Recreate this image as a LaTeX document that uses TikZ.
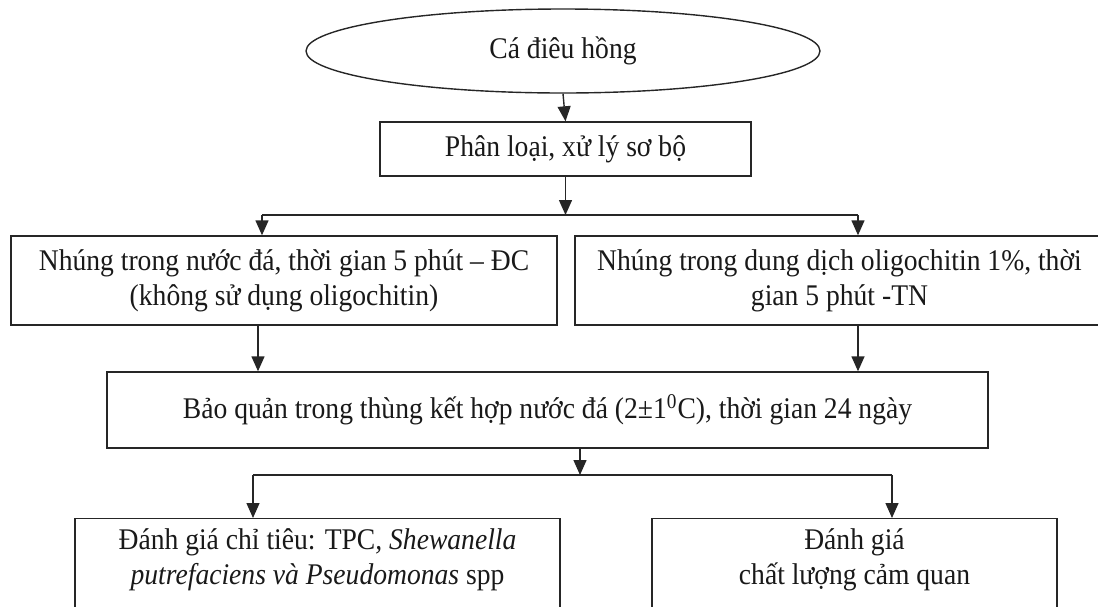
\documentclass[tikz,border=0pt]{standalone}
\usepackage{fontspec}
\setmainfont{Liberation Serif}[FakeStretch=0.92]
\usetikzlibrary{
    arrows.meta,
    shapes,
    calc,
    positioning
}

\begin{document}
\begin{tikzpicture}[x=0.5pt, y=-0.5pt,
        every node/.style={font=\fontsize{15}{17.5}\selectfont, text=black!90},
        box/.style={draw=black!85, line width=0.7pt, rectangle, align=center, inner sep=0pt},
        arr/.style={draw=black!85, line width=0.7pt, -{Triangle[width=6.5pt, length=7.5pt]}},
        ln/.style={draw=black!85, line width=0.7pt}]
    \useasboundingbox (0,0) rectangle (1098,606);

    \node[ellipse, draw=black!85, line width=0.7pt, minimum width=257pt, minimum height=42pt, inner sep=0pt] (fish) at (563,51) {Cá điêu hồng};
    \node[box, minimum width=185.5pt, minimum height=27pt] (sort) at (565.5,149) {Phân loại, xử lý sơ bộ};
    \node[box, minimum width=273pt, minimum height=44.5pt] (ice) at (284,280.5) {Nhúng trong nước đá, thời gian 5 phút – ĐC\\(không sử dụng oligochitin)};
    \node[box, minimum width=264.5pt, minimum height=44.5pt] (oligo) at (839.5,280.5) {Nhúng trong dung dịch oligochitin 1\%, thời\\gian 5 phút -TN};
    \node[box, minimum width=440.5pt, minimum height=38pt] (store) at (547.5,410) {Bảo quản trong thùng kết hợp nước đá (2±1\textsuperscript{0}C), thời gian 24 ngày};
    \node[box, anchor=north, minimum width=242.5pt, text height=33pt, text depth=20pt] (micro) at (317.5,518) {Đánh giá chỉ tiêu: TPC\textit{, Shewanella}\\\textit{putrefaciens và Pseudomonas} spp};
    \node[box, anchor=north, minimum width=202.5pt, text height=33pt, text depth=20pt] (sense) at (854.5,518) {Đánh giá\\chất lượng cảm quan};

    \coordinate (s1) at (565.5,215);
    \coordinate (s1l) at (262,215);
    \coordinate (s1r) at (858,215);
    \coordinate (cl) at (258,0);
    \coordinate (cr) at (858,0);
    \coordinate (s2) at (580,475);
    \coordinate (s2l) at (253,475);
    \coordinate (s2r) at (892,475);

    \draw[arr] (fish.south) -- (sort.north);
    \draw[arr] (sort.south) -- (s1);
    \draw[ln] (s1l) -- (s1r);
    \draw[arr] (s1l) -- (s1l |- ice.north);
    \draw[arr] (s1r) -- (s1r |- oligo.north);
    \draw[arr] (ice.south -| cl) -- (store.north -| cl);
    \draw[arr] (oligo.south -| cr) -- (store.north -| cr);
    \draw[arr] (store.south -| s2) -- (s2);
    \draw[ln] (s2l) -- (s2r);
    \draw[arr] (s2l) -- (s2l |- micro.north);
    \draw[arr] (s2r) -- (s2r |- sense.north);
\end{tikzpicture}
\end{document}
